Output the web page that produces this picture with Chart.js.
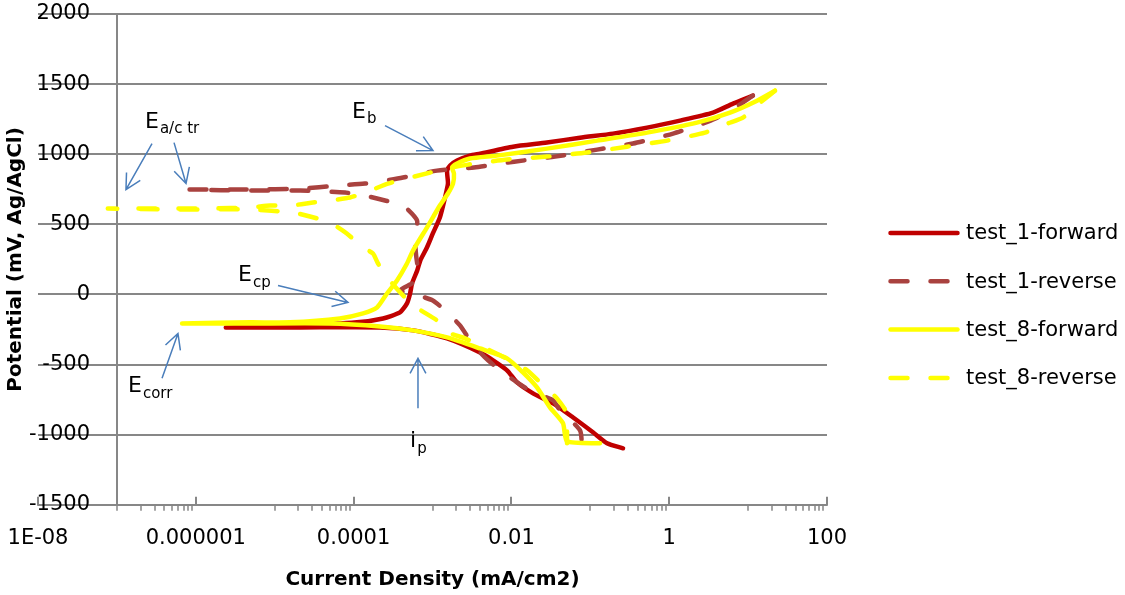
<!DOCTYPE html>
<html>
<head>
<meta charset="utf-8">
<title>Polarization curves</title>
<script src="https://cdn.jsdelivr.net/npm/chart.js@4.4.1/dist/chart.umd.min.js"></script>
<style>
  html, body { margin: 0; padding: 0; background: #fff; }
  #wrap { width: 1125px; height: 595px; }
</style>
</head>
<body>
<div id="wrap"><canvas id="polChart" width="1125" height="595"></canvas></div>
<script>
// current density in mA/cm2, potential in mV vs Ag/AgCl
const t1ForwardCurrent = [0.26, 0.163, 0.108, 0.060, 0.0337, 0.0188, 0.0118, 0.0088, 0.00585, 0.0040,
  0.00153, 5.7e-4, 2.2e-4, 2.1e-5, 2.4e-6, 2.1e-5, 1.1e-4, 2.36e-4, 3.87e-4, 4.75e-4,
  5.2e-4, 5.5e-4, 6.4e-4, 7.0e-4, 8.5e-4, 1.01e-3, 1.24e-3, 1.44e-3, 1.57e-3, 1.53e-3,
  1.67e-3, 2.05e-3, 2.98e-3, 4.0e-3, 0.0105, 0.0282, 0.074, 0.194, 0.524, 1.37,
  3.59, 6.44, 11.5];
const t1ForwardPotential = [-1097, -1061, -983, -876, -777, -705, -627, -541, -470, -413,
  -313, -256, -235, -235, -235, -221, -199, -171, -128, -64,
  7, 78, 171, 242, 335, 435, 549, 691, 791, 883,
  919, 955, 990, 1004, 1054, 1083, 1118, 1147, 1190, 1240,
  1297, 1361, 1418];

const t1ReverseCurrent = [11.5, 6.82, 3.80, 2.45, 1.12, 0.348, 0.122, 0.0357, 0.0108, 3.36e-3,
  1.14e-3, 4.23e-4, 2.5e-4, 1.39e-4, 6.3e-5, 2.1e-5, 4.9e-6, 8.2e-7, 4.9e-6, 2.1e-5,
  7.8e-5, 1.39e-4, 2.5e-4, 4.23e-4, 6.37e-4, 6.0e-4, 6.2e-4, 6.55e-4, 6.37e-4, 5.19e-4,
  3.87e-4, 6.0e-4, 1.01e-3, 1.44e-3, 2.23e-3, 3.17e-3, 4.62e-3, 7.18e-3, 0.0118, 0.0188,
  0.0337, 0.0413, 0.0741, 0.0785];
const t1ReversePotential = [1418, 1332, 1254, 1211, 1147, 1076, 1033, 983, 947, 905,
  883, 834, 812, 791, 776, 755, 748, 748, 741, 741,
  727, 705, 670, 634, 527, 399, 278, 171, 100, 71,
  28, 0, -43, -114, -221, -349, -449, -541, -627, -698,
  -755, -826, -969, -1097];

const t8ForwardCurrent = [0.133, 0.0507, 0.0451, 0.0308, 0.0211, 0.0140, 0.0088, 0.0040, 0.00153, 5.66e-4,
  2.16e-4, 5.0e-5, 4.9e-6, 6.7e-7, 4.9e-6, 1.56e-5, 6.7e-5, 1.32e-4, 1.98e-4, 2.65e-4,
  3.55e-4, 4.75e-4, 5.66e-4, 8.5e-4, 1.24e-3, 1.57e-3, 1.82e-3, 1.87e-3, 1.77e-3, 2.05e-3,
  2.98e-3, 6.56e-3, 0.0282, 0.122, 0.524, 2.25, 5.9, 13.0, 21.9];
const t8ForwardPotential = [-1061, -1047, -919, -805, -663, -556, -456, -385, -306, -256,
  -228, -207, -207, -207, -199, -199, -171, -135, -93, 7,
  100, 221, 313, 477, 634, 720, 791, 862, 905, 933,
  969, 990, 1040, 1097, 1154, 1225, 1297, 1382, 1453];

const t8ReverseCurrent = [21.9, 14.2, 8.6, 5.4, 2.84, 0.94, 0.292, 0.0908, 0.0282, 0.0088,
  2.82e-3, 1.77e-3, 9.3e-4, 2.73e-4, 1.52e-4, 9.0e-5, 5.0e-5, 3.05e-5, 1.56e-5, 8.7e-6,
  4.9e-6, 1.51e-6, 4.7e-7, 1.47e-7, 7.7e-8, 4.7e-7, 4.9e-6, 1.71e-5, 2.8e-5, 5.0e-5,
  8.2e-5, 1.32e-4, 1.76e-4, 2.04e-4, 2.73e-4, 4.48e-4, 6.55e-4, 1.14e-3, 1.57e-3, 2.58e-3,
  5.36e-3, 9.6e-3, 0.0158, 0.0252, 0.0378, 0.0507, 0.0507, 0.0507];
const t8ReversePotential = [1453, 1368, 1261, 1218, 1154, 1097, 1054, 1012, 983, 962,
  926, 905, 869, 791, 734, 691, 670, 655, 634, 634,
  620, 613, 613, 613, 613, 606, 606, 584, 556, 513,
  435, 335, 292, 221, 114, -21, -100, -185, -271, -313,
  -399, -470, -541, -648, -741, -848, -969, -1061];

const xTickValues = [1e-8, 1e-6, 1e-4, 1e-2, 1, 100];
const xTickLabels = ["1E-08", "0.000001", "0.0001", "0.01", "1", "100"];
const yTickValues = [-1500, -1000, -500, 0, 500, 1000, 1500, 2000];
const minorDecades = [-7, -5, -3, -1, 1];
const yAxisCross = 1e-7;

// text labels and arrows, in (log10 current, mV)
const notes = [
  { main: "E", sub: "a/c tr", lx: -6.644, mv: 1190 },
  { main: "E", sub: "b", lx: -4.020, mv: 1261 },
  { main: "E", sub: "cp", lx: -5.465, mv: 93 },
  { main: "E", sub: "corr", lx: -6.859, mv: -698 },
  { main: "i", sub: "p", lx: -3.285, mv: -1090 }
];
const arrows = [
  [-6.555, 1076, -6.885, 748],
  [-6.276, 1083, -6.124, 791],
  [-3.602, 1204, -2.994, 1026],
  [-4.958, 64, -4.071, -57],
  [-6.428, -598, -6.226, -278],
  [-3.184, -812, -3.184, -456]
];

const FONT = "'DejaVu Sans', sans-serif";
const GRID = "#878787";
Chart.defaults.font.family = FONT;
Chart.defaults.color = "#000";

function toPoints(xs, ys) {
  return xs.map(function (x, i) { return { x: x, y: ys[i] }; });
}

function lineSet(label, xs, ys, color, dash, order) {
  return {
    label: label,
    data: toPoints(xs, ys),
    borderColor: color,
    backgroundColor: color,
    borderWidth: 4.5,
    borderDash: dash,
    borderCapStyle: "round",
    borderJoinStyle: "round",
    pointRadius: 0,
    showLine: true,
    fill: false,
    tension: 0.2,
    order: order
  };
}

const decorPlugin = {
  id: "decor",
  beforeDatasetsDraw(chart) {
    const { ctx, chartArea } = chart;
    const xs = chart.scales.x;
    ctx.save();
    ctx.strokeStyle = GRID;
    ctx.lineWidth = 2;
    const ax = Math.round(xs.getPixelForValue(yAxisCross));
    ctx.beginPath();
    ctx.moveTo(ax, chartArea.top);
    ctx.lineTo(ax, chartArea.bottom);
    xTickValues.forEach(function (v) {
      const x = Math.round(xs.getPixelForValue(v));
      ctx.moveTo(x, chartArea.bottom - 8);
      ctx.lineTo(x, chartArea.bottom + 1);
    });
    ctx.stroke();
    ctx.lineWidth = 1.5;
    ctx.beginPath();
    minorDecades.forEach(function (d) {
      for (let m = 1; m <= 9; m++) {
        const x = Math.round(xs.getPixelForValue(m * Math.pow(10, d)));
        ctx.moveTo(x, chartArea.bottom);
        ctx.lineTo(x, chartArea.bottom + 6);
      }
    });
    ctx.stroke();
    ctx.restore();
  },
  afterDatasetsDraw(chart) {
    const { ctx } = chart;
    const xs = chart.scales.x, ys = chart.scales.y;
    const px = function (lx) { return xs.getPixelForValue(Math.pow(10, lx)); };
    ctx.save();
    ctx.strokeStyle = "#4A7EBB";
    ctx.lineWidth = 1.5;
    arrows.forEach(function (a) {
      const x1 = px(a[0]), y1 = ys.getPixelForValue(a[1]);
      const x2 = px(a[2]), y2 = ys.getPixelForValue(a[3]);
      const ang = Math.atan2(y2 - y1, x2 - x1);
      const h = 17, s = Math.PI / 6.5;
      ctx.beginPath();
      ctx.moveTo(x1, y1);
      ctx.lineTo(x2, y2);
      ctx.moveTo(x2 - h * Math.cos(ang - s), y2 - h * Math.sin(ang - s));
      ctx.lineTo(x2, y2);
      ctx.lineTo(x2 - h * Math.cos(ang + s), y2 - h * Math.sin(ang + s));
      ctx.stroke();
    });
    ctx.fillStyle = "#000";
    ctx.textBaseline = "alphabetic";
    ctx.textAlign = "left";
    notes.forEach(function (n) {
      const x = px(n.lx), y = ys.getPixelForValue(n.mv);
      ctx.font = "22px " + FONT;
      ctx.fillText(n.main, x, y);
      const w = ctx.measureText(n.main).width;
      ctx.font = "15px " + FONT;
      ctx.fillText(n.sub, x + w + 1, y + 5.5);
    });
    ctx.restore();
  },
  afterDraw(chart) {
    const { ctx } = chart;
    ctx.save();
    ctx.font = "21px " + FONT;
    ctx.textBaseline = "middle";
    ctx.textAlign = "left";
    chart.data.datasets.forEach(function (ds, i) {
      const y = 233 + i * 48.3;
      ctx.strokeStyle = ds.borderColor;
      ctx.lineWidth = ds.borderWidth;
      ctx.lineCap = "round";
      ctx.setLineDash(ds.borderDash);
      ctx.beginPath();
      ctx.moveTo(890.5, y);
      ctx.lineTo(957.5, y);
      ctx.stroke();
      ctx.setLineDash([]);
      ctx.fillStyle = "#000";
      ctx.fillText(ds.label, 966, y + 1);
    });
    ctx.restore();
  }
};

const ctx = document.getElementById("polChart").getContext("2d");
new Chart(ctx, {
  type: "scatter",
  data: {
    datasets: [
      lineSet("test_1-forward", t1ForwardCurrent, t1ForwardPotential, "#C00000", [], 4),
      lineSet("test_1-reverse", t1ReverseCurrent, t1ReversePotential, "#A9423F", [17, 23], 3),
      lineSet("test_8-forward", t8ForwardCurrent, t8ForwardPotential, "#FFFF00", [], 2),
      lineSet("test_8-reverse", t8ReverseCurrent, t8ReversePotential, "#FFFF00", [17, 23], 1)
    ]
  },
  options: {
    responsive: false,
    animation: false,
    layout: { padding: { left: 0, right: 298, top: 14, bottom: 1 } },
    plugins: {
      legend: { display: false },
      tooltip: { enabled: false }
    },
    scales: {
      x: {
        type: "logarithmic",
        min: 1e-8,
        max: 100,
        afterBuildTicks: function (scale) {
          scale.ticks = xTickValues.map(function (v) { return { value: v }; });
        },
        ticks: {
          autoSkip: false,
          maxRotation: 0,
          padding: 0,
          font: { size: 21 },
          color: "#000",
          callback: function (value, index) { return xTickLabels[index]; }
        },
        grid: { display: false, drawTicks: true, tickLength: 21 },
        border: { display: false },
        title: {
          display: true,
          text: "Current Density (mA/cm2)",
          color: "#000",
          font: { size: 20, weight: "bold" },
          padding: { top: 17, bottom: 2 }
        }
      },
      y: {
        type: "linear",
        min: -1500,
        max: 2000,
        afterBuildTicks: function (scale) {
          scale.ticks = yTickValues.map(function (v) { return { value: v }; });
        },
        ticks: {
          mirror: true,
          crossAlign: "far",
          padding: -9,
          font: { size: 21 },
          color: "#000",
          callback: function (value) { return String(value); }
        },
        grid: { color: GRID, lineWidth: 2, drawTicks: false },
        border: { display: false },
        title: {
          display: true,
          text: "Potential (mV, Ag/AgCl)",
          color: "#000",
          font: { size: 20, weight: "bold" },
          padding: { top: 4, bottom: 28 }
        }
      }
    }
  },
  plugins: [decorPlugin]
});
</script>
</body>
</html>
